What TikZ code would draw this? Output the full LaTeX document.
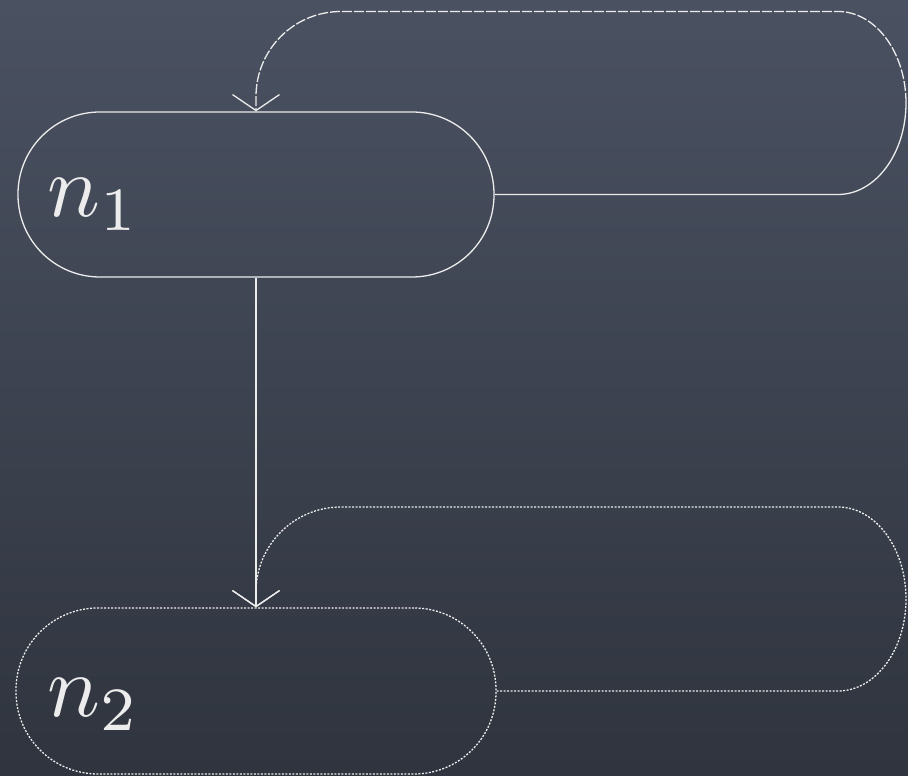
\documentclass[tikz,border=0pt]{standalone}
\usetikzlibrary{arrows.meta}
\definecolor{bgtop}{HTML}{4A5161}
\definecolor{bgbot}{HTML}{2F343E}
\definecolor{chalk}{HTML}{ECECEC}
\begin{document}
\begin{tikzpicture}[x=1pt,y=1pt,
  statebox/.style={draw=chalk, line width=1.3pt, rounded corners=82pt, minimum width=476pt, minimum height=165pt, inner sep=0pt},
  lbl/.style={text=chalk, inner sep=0pt, scale=8.8},
  conn/.style={draw=chalk, line width=1.3pt},
  tip/.style={-{Straight Barb[length=16pt,width=47pt,line width=1.3pt]}}
]
\useasboundingbox (0,0) rectangle (908,776);
\shade[top color=bgtop, bottom color=bgbot] (0,0) rectangle (908,776);

\node[statebox] (n1) at (256,581.5) {};
\node[statebox, minimum width=480pt, minimum height=166pt, dash pattern=on 2pt off 1.5pt] (n2) at (256,85) {};
\node[lbl, anchor=base west] (l1) at (46,559) {$n_1$};
\node[lbl, anchor=base west] (l2) at (46,59) {$n_2$};

% loop on n1
\draw[conn] (n1.east) -- (838,581.5) arc[start angle=-90, end angle=0, x radius=68, y radius=91.5] coordinate (r1);
\draw[conn, tip, dash pattern=on 10pt off 2pt] (r1) arc[start angle=0, end angle=90, x radius=68, y radius=91.5]
  -- (341,764.5) arc[start angle=90, end angle=180, radius=85] -- (n1.north);

% n1 -> n2
\draw[conn, tip] (n1.south) -- (n2.north);

% loop on n2
\draw[conn, tip, dash pattern=on 2pt off 1.5pt] (n2.east) -- (838,85) arc[start angle=-90, end angle=0, x radius=68, y radius=92]
  arc[start angle=0, end angle=90, x radius=68, y radius=92]
  -- (341,269) arc[start angle=90, end angle=180, radius=85] -- (n2.north);
\end{tikzpicture}
\end{document}
